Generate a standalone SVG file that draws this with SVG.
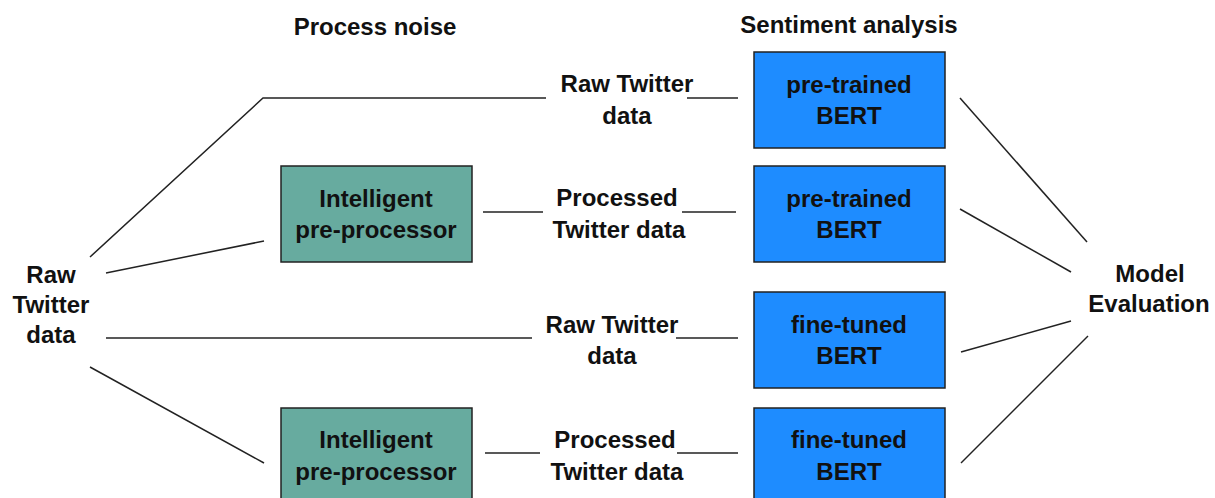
<svg xmlns="http://www.w3.org/2000/svg" width="1215" height="498" viewBox="0 0 1215 498">
<style>
.t{font-family:"Liberation Sans",Arial,sans-serif;font-size:24px;font-weight:bold;fill:#111;text-anchor:middle}
.bert{fill:#1E8CFF;stroke:#222;stroke-width:1.5}
.pre{fill:#67AB9F;stroke:#222;stroke-width:1.5}
.c{stroke:#222;stroke-width:1.5;fill:none}
</style>
<rect width="1215" height="498" fill="#fff"/>
<g id="headers">
<text class="t" x="375" y="35">Process noise</text>
<text class="t" x="849" y="33">Sentiment analysis</text>
</g>
<g id="connectors">
<polyline class="c" points="90,257 263,98 546,98"/>
<line class="c" x1="687" y1="98" x2="738" y2="98"/>
<line class="c" x1="106" y1="273" x2="264" y2="241"/>
<line class="c" x1="483" y1="212" x2="543" y2="212"/>
<line class="c" x1="682" y1="212" x2="736" y2="212"/>
<line class="c" x1="106" y1="338" x2="532" y2="338"/>
<line class="c" x1="676" y1="338" x2="738" y2="338"/>
<line class="c" x1="90" y1="367" x2="264" y2="463"/>
<line class="c" x1="485" y1="453" x2="540" y2="453"/>
<line class="c" x1="677" y1="453" x2="738" y2="453"/>
<line class="c" x1="960" y1="98" x2="1087" y2="242"/>
<line class="c" x1="960" y1="209" x2="1071" y2="272"/>
<line class="c" x1="961" y1="352" x2="1071" y2="321"/>
<line class="c" x1="961" y1="463" x2="1088" y2="336"/>
<g id="edge-labels">
<text class="t" x="627" y="92">Raw Twitter</text>
<text class="t" x="627" y="124">data</text>
<text class="t" x="617" y="206">Processed</text>
<text class="t" x="619" y="238">Twitter data</text>
<text class="t" x="612" y="333">Raw Twitter</text>
<text class="t" x="612" y="364">data</text>
<text class="t" x="615" y="448">Processed</text>
<text class="t" x="617" y="480">Twitter data</text>
</g>
</g>
<g id="raw-data">
<text class="t" x="51" y="283">Raw</text>
<text class="t" x="51" y="313">Twitter</text>
<text class="t" x="51" y="343">data</text>
</g>
<g id="preproc-1">
<rect class="pre" x="281" y="166" width="191" height="96"/>
<text class="t" x="376" y="207">Intelligent</text>
<text class="t" x="376" y="238">pre-processor</text>
</g>
<g id="preproc-2">
<rect class="pre" x="281" y="408" width="191" height="96"/>
<text class="t" x="376" y="448">Intelligent</text>
<text class="t" x="376" y="480">pre-processor</text>
</g>
<g id="bert-1">
<rect class="bert" x="754" y="52" width="191" height="96"/>
<text class="t" x="849" y="93">pre-trained</text>
<text class="t" x="849" y="124">BERT</text>
</g>
<g id="bert-2">
<rect class="bert" x="754" y="166" width="191" height="96"/>
<text class="t" x="849" y="207">pre-trained</text>
<text class="t" x="849" y="238">BERT</text>
</g>
<g id="bert-3">
<rect class="bert" x="754" y="292" width="191" height="96"/>
<text class="t" x="849" y="333">fine-tuned</text>
<text class="t" x="849" y="364">BERT</text>
</g>
<g id="bert-4">
<rect class="bert" x="754" y="408" width="191" height="96"/>
<text class="t" x="849" y="448">fine-tuned</text>
<text class="t" x="849" y="480">BERT</text>
</g>
<g id="model-eval">
<text class="t" x="1150" y="282">Model</text>
<text class="t" x="1149" y="312">Evaluation</text>
</g>
</svg>
